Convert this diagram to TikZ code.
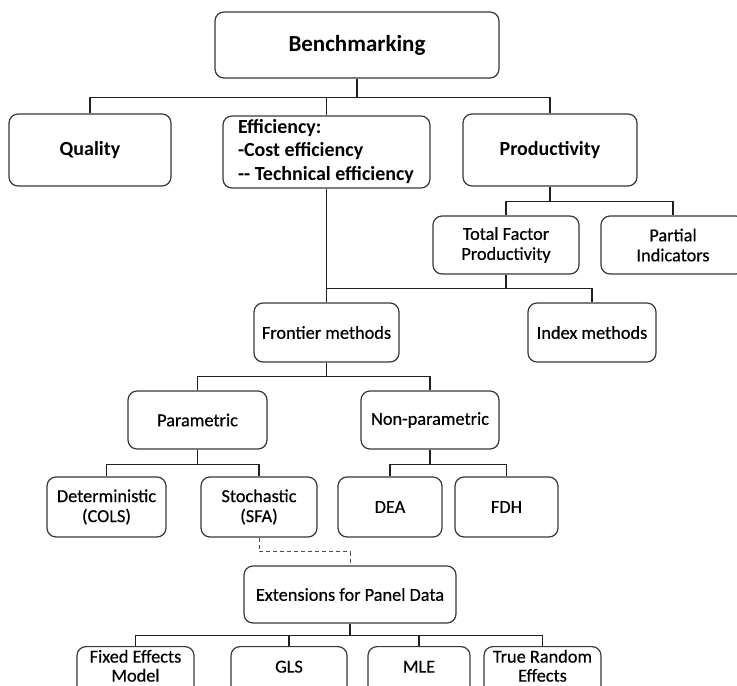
\documentclass[tikz,border=0pt]{standalone}
\usepackage{fontspec}
\setmainfont{Carlito}
\newfontfamily\lowfont[FakeBold=0.45]{Carlito}
\begin{document}
\begin{tikzpicture}[x=1pt,y=-1pt,
  box/.style={draw=black!78, line width=1.2pt, rounded corners=9pt, fill=white, inner sep=0pt},
  conn/.style={draw=black!88, line width=1.1pt},
  dconn/.style={draw=black!70, line width=1pt, dash pattern=on 4pt off 3pt},
  big/.style={font=\fontsize{23}{27}\selectfont\bfseries},
  lvlone/.style={font=\fontsize{20}{23.5}\selectfont\bfseries},
  lvltwo/.style={font=\lowfont\fontsize{18.3}{20}\selectfont, align=center},
  lvlthree/.style={font=\lowfont\fontsize{18.3}{19}\selectfont, anchor=north, text depth=50pt},
]
\useasboundingbox (0,0) rectangle (737,686);
\clip (0,0) rectangle (737,686);

% level 0
\node[box, big, minimum width=284pt, minimum height=66pt] (bench) at (357,45) {Benchmarking};

% level 1
\node[box, lvlone, minimum width=162pt, minimum height=72pt] (quality) at (90,150) {Quality};
\node[box, lvlone, minimum width=207pt, minimum height=72pt] (eff) at (326.5,152)
  {\makebox[177pt][l]{\begin{tabular}{@{}l@{}}Efficiency:\\-Cost efficiency\\-{}- Technical efficiency\end{tabular}}};
\node[box, lvlone, minimum width=174pt, minimum height=72pt] (prod) at (550,150) {Productivity};

% productivity children
\node[box, lvltwo, minimum width=146pt, minimum height=58pt] (tfp) at (506,245) {Total Factor\\Productivity};
\node[box, lvltwo, minimum width=144pt, minimum height=58pt] (partial) at (673,245) {Partial\\Indicators};

% methods
\node[box, lvltwo, minimum width=145pt, minimum height=59pt] (frontier) at (326.5,332.5) {Frontier methods};
\node[box, lvltwo, minimum width=128pt, minimum height=59pt] (index) at (592,332.5) {Index methods};

\node[box, lvltwo, minimum width=139pt, minimum height=58pt] (param) at (197.5,420) {Parametric};
\node[box, lvltwo, minimum width=138pt, minimum height=58pt] (nonparam) at (430,420) {Non-parametric};

\node[box, lvltwo, minimum width=119pt, minimum height=60pt] (det) at (106.5,507) {Deterministic\\(COLS)};
\node[box, lvltwo, minimum width=116pt, minimum height=60pt] (stoch) at (259,507) {Stochastic\\(SFA)};
\node[box, lvltwo, minimum width=104pt, minimum height=60pt] (dea) at (390,507) {DEA};
\node[box, lvltwo, minimum width=103pt, minimum height=60pt] (fdh) at (506.5,507) {FDH};

\node[box, lvltwo, minimum width=212pt, minimum height=57pt] (ext) at (350,594.5) {Extensions for Panel Data};

% bottom row (cut by the picture edge)
\node[box, lvlthree, minimum width=117pt, text height=16pt] (fe) at (135.5,646)
  {\begin{tabular}[t]{@{}c@{}}Fixed Effects\\Model\end{tabular}};
\node[box, lvlthree, minimum width=116pt, text height=26pt] (gls) at (289,646) {GLS};
\node[box, lvlthree, minimum width=102pt, text height=26pt] (mle) at (419,646) {MLE};
\node[box, lvlthree, minimum width=117pt, text height=16pt] (tre) at (542.5,646)
  {\begin{tabular}[t]{@{}c@{}}True Random\\Effects\end{tabular}};

% connectors
\draw[conn] (bench.south) -- ++(0,19) coordinate (t1);
\draw[conn] (quality.north) |- (t1) -| (prod.north);
\draw[conn] (eff.north) -- (eff.north |- t1);

\draw[conn] (prod.south) -- ++(0,15) coordinate (p1);
\draw[conn] (tfp.north) |- (p1) -| (partial.north);

\draw[conn] (eff.south) -- (frontier.north);
\draw[conn] (tfp.south) -- ++(0,14) coordinate (q1);
\draw[conn] (frontier.north |- q1) -| (index.north);

\draw[conn] (frontier.south) -- ++(0,14) coordinate (f1);
\draw[conn] (param.north) |- (f1) -| (nonparam.north);

\draw[conn] (param.south) -- ++(0,15) coordinate (r1);
\draw[conn] (det.north) |- (r1) -| (stoch.north);
\draw[conn] (nonparam.south) -- ++(0,15) coordinate (n1);
\draw[conn] (dea.north) |- (n1) -| (fdh.north);

\draw[dconn] (stoch.south) -- ++(0,14) -| (ext.north);

\draw[conn] (ext.south) -- ++(0,12) coordinate (e1);
\draw[conn] (fe.north) |- (e1) -| (tre.north);
\draw[conn] (gls.north) -- (gls.north |- e1);
\draw[conn] (mle.north) -- (mle.north |- e1);
\end{tikzpicture}
\end{document}
